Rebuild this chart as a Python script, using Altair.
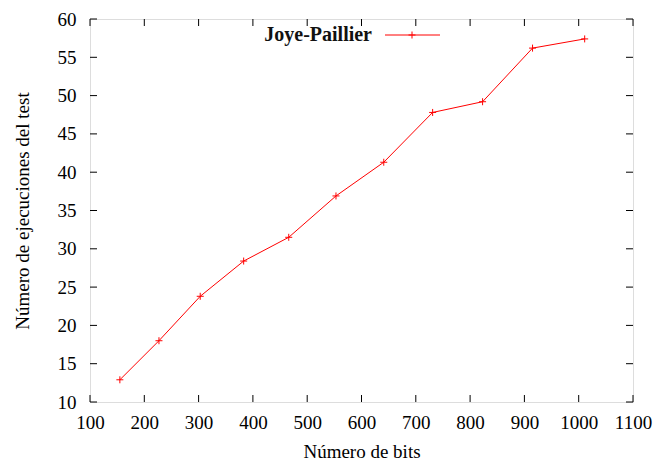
import altair as alt
import pandas as pd

bits = [155, 227, 303, 383, 466, 553, 641, 731, 823, 915, 1011]
ejecuciones = [12.9, 18.0, 23.8, 28.4, 31.5, 36.9, 41.3, 47.8, 49.2, 56.2, 57.4]
x_ticks = [100, 200, 300, 400, 500, 600, 700, 800, 900, 1000, 1100]
y_ticks = [10, 15, 20, 25, 30, 35, 40, 45, 50, 55, 60]
serie = "Joye-Paillier"

W, H = 543, 383
FONT = "Liberation Serif"
RED = "#ff0000"
PLUS = "M-1,0H1M0,-1V1"

df = pd.DataFrame({"bits": bits, "ejec": ejecuciones})
xt = pd.DataFrame({"v": x_ticks})
yt = pd.DataFrame({"v": y_ticks})
one = pd.DataFrame({"s": [serie]})

xscale = alt.Scale(domain=[100, 1100], nice=False, zero=False)
yscale = alt.Scale(domain=[10, 60], nice=False, zero=False)

x_axis = alt.Axis(
    values=x_ticks, format="d", grid=False, domain=False, ticks=False, tickSize=0,
    labelOverlap=False, labelFlush=False,
    labelPadding=26, labelBaseline="alphabetic", labelFont=FONT, labelFontSize=19,
    labelColor="#000", title="Número de bits", titleFont=FONT, titleFontSize=19,
    titleFontWeight="normal", titleColor="#000", titleBaseline="alphabetic",
    titleY=55.5, titleX=W / 2,
)
y_axis = alt.Axis(
    values=y_ticks, format="d", grid=False, domain=False, ticks=False, tickSize=0,
    labelOverlap=False, labelFlush=False,
    labelPadding=14, labelFont=FONT, labelFontSize=19, labelColor="#000",
    title="Número de ejecuciones del test", titleFont=FONT, titleFontSize=19,
    titleFontWeight="normal", titleColor="#000", titleAngle=270,
    titleBaseline="alphabetic", titleAlign="center", titleX=-62, titleY=H / 2,
)


def X(field):
    return alt.X(field, scale=xscale, axis=x_axis, title="Número de bits")


def Y(field):
    return alt.Y(field, scale=yscale, axis=y_axis, title="Número de ejecuciones del test")


line = alt.Chart(df).mark_line(color=RED, strokeWidth=1).encode(
    x=X("bits:Q"), y=Y("ejec:Q"))
pts = alt.Chart(df).mark_point(shape=PLUS, size=49, filled=False, color=RED,
                               strokeWidth=1, opacity=1).encode(
    x=X("bits:Q"), y=Y("ejec:Q"))

TL = 7
xt_bot = alt.Chart(xt).mark_rule(color="#000", strokeWidth=1).encode(
    x=X("v:Q"), y=alt.value(H), y2=alt.value(H - TL))
xt_top = alt.Chart(xt).mark_rule(color="#000", strokeWidth=1).encode(
    x=X("v:Q"), y=alt.value(0), y2=alt.value(TL))
yt_left = alt.Chart(yt).mark_rule(color="#000", strokeWidth=1).encode(
    y=Y("v:Q"), x=alt.value(0), x2=alt.value(TL))
yt_right = alt.Chart(yt).mark_rule(color="#000", strokeWidth=1).encode(
    y=Y("v:Q"), x=alt.value(W), x2=alt.value(W - TL))

leg_text = alt.Chart(one).mark_text(font=FONT, fontSize=20, fontWeight="bold",
                                    align="right", baseline="alphabetic",
                                    color="#111").encode(
    text="s:N", x=alt.value(282), y=alt.value(22))
leg_line = alt.Chart(one).mark_rule(color=RED, strokeWidth=1).encode(
    x=alt.value(295), x2=alt.value(350), y=alt.value(16))
leg_pt = alt.Chart(one).mark_point(shape=PLUS, size=49, filled=False, color=RED,
                                   strokeWidth=1, opacity=1).encode(
    x=alt.value(322), y=alt.value(16))

chart = alt.layer(
    line, pts, xt_bot, xt_top, yt_left, yt_right, leg_text, leg_line, leg_pt
).properties(
    width=W, height=H,
    autosize=alt.AutoSizeParams(type="none"),
    padding={"left": 90, "top": 19, "right": 24, "bottom": 59},
).configure_view(
    stroke="#000", strokeWidth=1
).configure(background="white")

chart.save("out.html", embed_options={"renderer": "svg", "actions": False})
